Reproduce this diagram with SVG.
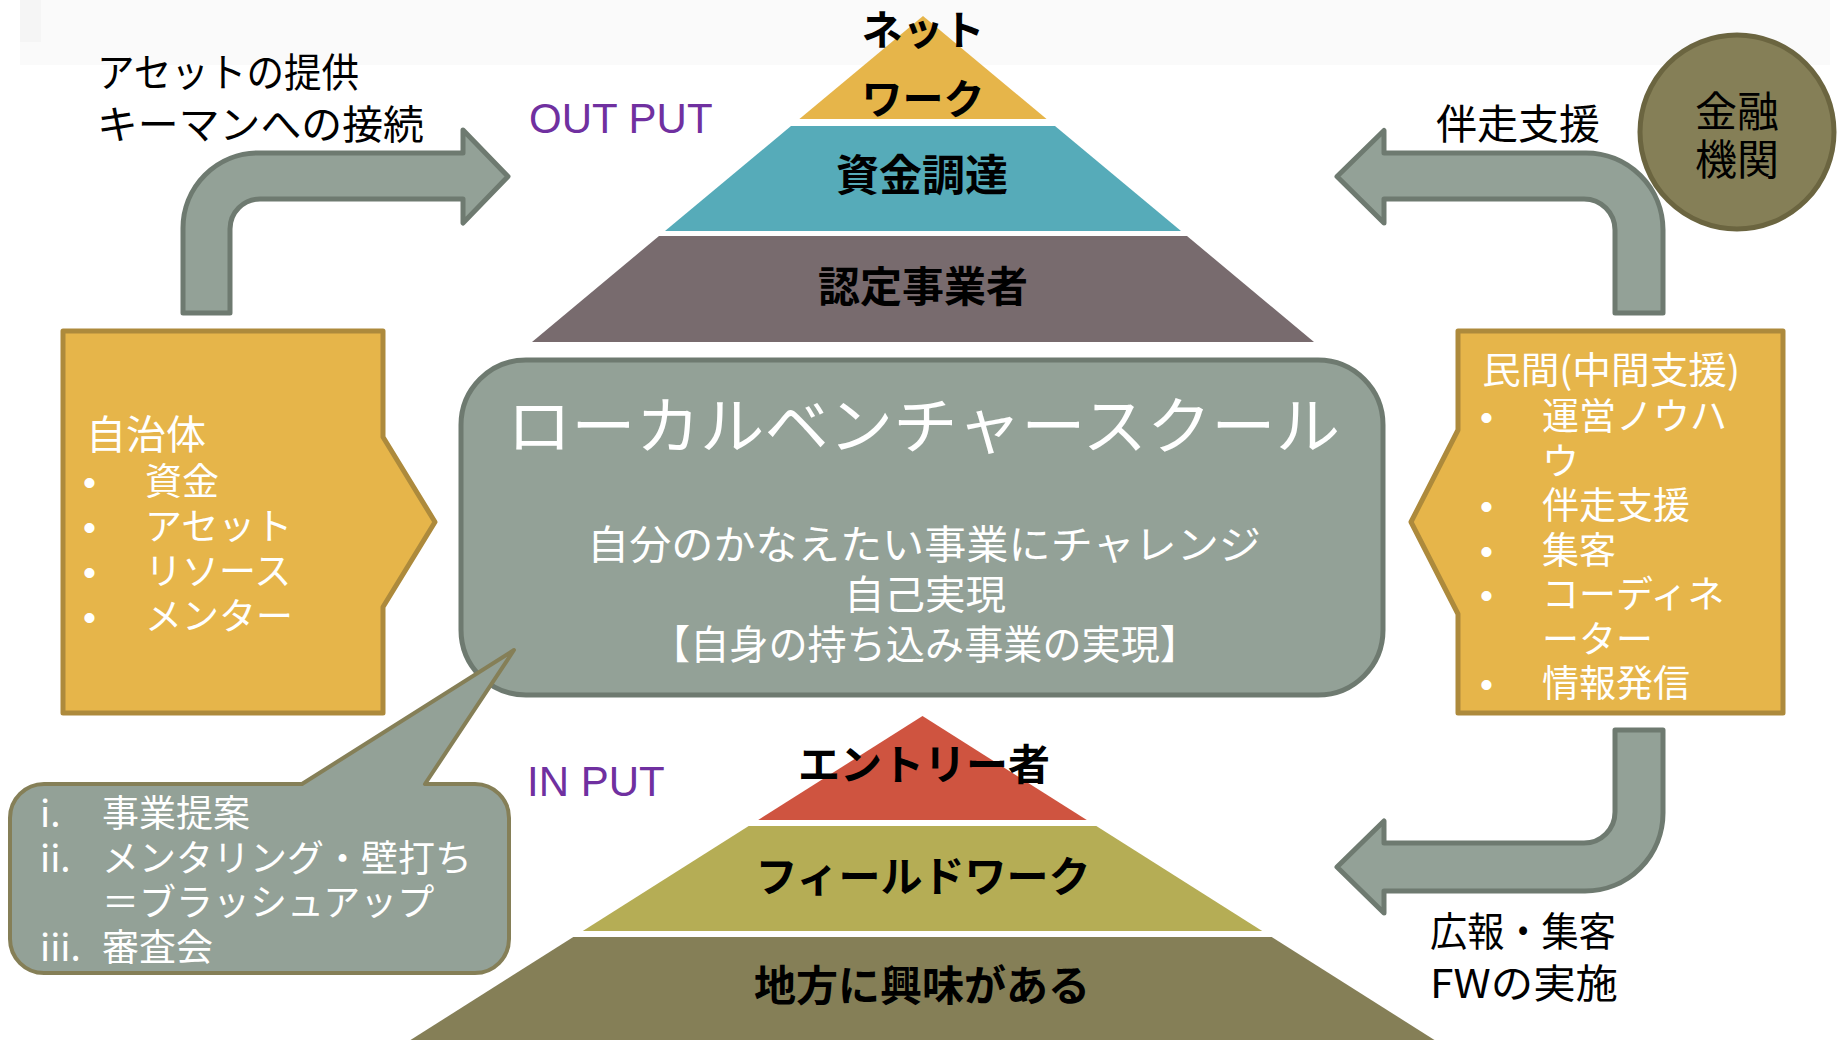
<svg xmlns="http://www.w3.org/2000/svg" width="1841" height="1040" viewBox="0 0 1841 1040">
<style>
  text { font-family: 'Noto Sans CJK JP', 'Noto Sans', sans-serif; }
  .blk { fill: #000; }
  .wht { fill: #fff; }
  .pyr { fill: #000; font-weight: bold; text-anchor: middle; }
  .io { fill: #7030a0; font-family: 'Liberation Sans', Arial, sans-serif; font-size: 42px; }
  .bul { fill: #fff; font-family: 'Liberation Sans', Arial, sans-serif; font-size: 37px; }
  .arrow { fill: #93a197; stroke: #6e7a70; stroke-width: 5; stroke-linejoin: round; }
  .ybox { fill: #e6b54a; stroke: #ad8a3c; stroke-width: 5; stroke-linejoin: round; }
</style>

<rect x="0" y="0" width="1841" height="1040" fill="#ffffff"/>
<rect x="20" y="0" width="1810" height="65" fill="#fafafa"/>
<rect x="20" y="0" width="21" height="42" fill="#f5f5f5"/>

<!-- connectors: block arrows -->
<g id="connectors">
  <path id="arrow-left-up" class="arrow" d="M183,313 L183,228 A75,75 0 0 1 258,153 L463,153 L463,130 L508,176.5 L463,223 L463,199 L260,199 A30,30 0 0 0 230,229 L230,313 Z"/>
  <path id="arrow-right-up" class="arrow" d="M1337,176.5 L1384,130.5 L1384,153 L1586,153 A77,77 0 0 1 1663,230 L1663,313 L1615,313 L1615,230 A31,31 0 0 0 1584,199 L1384,199 L1384,223 Z"/>
  <path id="arrow-right-down" class="arrow" d="M1615,730 L1663,730 L1663,813 A78,78 0 0 1 1585,891 L1384,891 L1384,913 L1337,867 L1384,821 L1384,843 L1584,843 A31,31 0 0 0 1615,812 Z"/>
</g>

<!-- arrow labels -->
<g id="label-asset">
  <text class="blk" x="97" y="87" font-size="40" textLength="262" lengthAdjust="spacingAndGlyphs">アセットの提供</text>
  <text class="blk" x="97" y="139" font-size="40" textLength="327" lengthAdjust="spacingAndGlyphs">キーマンへの接続</text>
</g>
<g id="label-bansou">
  <text class="blk" x="1518" y="139" font-size="41" text-anchor="middle">伴走支援</text>
</g>
<g id="label-kouhou">
  <text class="blk" x="1430" y="946" font-size="40" textLength="186" lengthAdjust="spacingAndGlyphs">広報・集客</text>
  <text class="blk" x="1430" y="998" font-size="40" textLength="188" lengthAdjust="spacingAndGlyphs">FWの実施</text>
</g>

<!-- OUT PUT / IN PUT -->
<g id="label-output"><text class="io" x="529" y="133">OUT PUT</text></g>
<g id="label-input"><text class="io" x="527" y="796">IN PUT</text></g>

<!-- top pyramid -->
<g id="pyramid-top">
  <g id="tier-network">
    <polygon points="923,16 1046.6,119 799.4,119" fill="#e6b54a"/>
    <text class="pyr" x="923" y="45" font-size="41">ネット</text>
    <text class="pyr" x="923" y="114" font-size="41">ワーク</text>
  </g>
  <g id="tier-funding">
    <polygon points="791,126 1055,126 1181,231 665,231" fill="#56abb9"/>
    <text class="pyr" x="922" y="191" font-size="43">資金調達</text>
  </g>
  <g id="tier-certified">
    <polygon points="659,236 1187,236 1314,342 532,342" fill="#786b6e"/>
    <text class="pyr" x="923" y="302" font-size="42">認定事業者</text>
  </g>
</g>

<!-- central node -->
<g id="central">
  <rect x="461" y="360" width="922" height="335" rx="65" ry="65" fill="#93a197" stroke="#6e7a70" stroke-width="5"/>
  <text class="wht" x="923.5" y="449" font-size="62" text-anchor="middle" textLength="833" lengthAdjust="spacingAndGlyphs">ローカルベンチャースクール</text>
  <text class="wht" x="924" y="559" font-size="40" text-anchor="middle" textLength="674" lengthAdjust="spacingAndGlyphs">自分のかなえたい事業にチャレンジ</text>
  <text class="wht" x="925" y="609" font-size="40" text-anchor="middle" textLength="162" lengthAdjust="spacingAndGlyphs">自己実現</text>
  <text class="wht" x="925" y="659" font-size="40" text-anchor="middle" textLength="548" lengthAdjust="spacingAndGlyphs">【自身の持ち込み事業の実現】</text>
</g>

<!-- left box -->
<g id="jichitai">
  <path class="ybox" d="M63,331 L383,331 L383,437 L435,522 L383,607 L383,713 L63,713 Z"/>
  <text class="wht" x="86" y="449" font-size="40">自治体</text>
  <text class="bul" x="83" y="495">•</text>
  <text class="wht" x="145" y="495" font-size="37">資金</text>
  <text class="bul" x="83" y="540">•</text>
  <text class="wht" x="145" y="540" font-size="37">アセット</text>
  <text class="bul" x="83" y="585">•</text>
  <text class="wht" x="145" y="585" font-size="37">リソース</text>
  <text class="bul" x="83" y="630">•</text>
  <text class="wht" x="145" y="630" font-size="37">メンター</text>
</g>

<!-- right box -->
<g id="minkan">
  <path class="ybox" d="M1458,331 L1783,331 L1783,713 L1458,713 L1458,614 L1411,522 L1458,430 Z"/>
  <text class="wht" x="1482" y="384" font-size="37" textLength="258" lengthAdjust="spacingAndGlyphs">民間(中間支援)</text>
  <text class="bul" x="1480" y="430">•</text>
  <text class="wht" x="1542" y="430" font-size="37">運営ノウハ</text>
  <text class="wht" x="1542" y="474.5" font-size="37">ウ</text>
  <text class="bul" x="1480" y="519">•</text>
  <text class="wht" x="1542" y="519" font-size="37">伴走支援</text>
  <text class="bul" x="1480" y="563.5">•</text>
  <text class="wht" x="1542" y="563.5" font-size="37">集客</text>
  <text class="bul" x="1480" y="608">•</text>
  <text class="wht" x="1542" y="608" font-size="37">コーディネ</text>
  <text class="wht" x="1542" y="652.5" font-size="37">ーター</text>
  <text class="bul" x="1480" y="697">•</text>
  <text class="wht" x="1542" y="697" font-size="37">情報発信</text>
</g>

<!-- financial institution -->
<g id="kinyu">
  <circle cx="1737" cy="132" r="97" fill="#857f57" stroke="#6b6540" stroke-width="5"/>
  <text class="blk" x="1737" y="127" font-size="42" text-anchor="middle">金融</text>
  <text class="blk" x="1737" y="175" font-size="42" text-anchor="middle">機関</text>
</g>

<!-- speech bubble -->
<g id="bubble">
  <path d="M44,784 L302,784 L514,650 L425,784 L475,784 A34,34 0 0 1 509,818 L509,939 A34,34 0 0 1 475,973 L44,973 A34,34 0 0 1 10,939 L10,818 A34,34 0 0 1 44,784 Z" fill="#93a197" stroke="#857f57" stroke-width="4" stroke-linejoin="round"/>
  <text class="wht" x="40" y="827" font-size="37">i.</text>
  <text class="wht" x="102" y="827" font-size="37">事業提案</text>
  <text class="wht" x="40" y="872" font-size="37">ii.</text>
  <text class="wht" x="102" y="872" font-size="37">メンタリング・壁打ち</text>
  <text class="wht" x="102" y="916" font-size="37">＝ブラッシュアップ</text>
  <text class="wht" x="40" y="961" font-size="37">iii.</text>
  <text class="wht" x="102" y="961" font-size="37">審査会</text>
</g>

<!-- bottom pyramid -->
<g id="pyramid-bottom">
  <g id="tier-entry">
    <polygon points="922.5,716 1086.8,820 758.2,820" fill="#cf5440"/>
    <text class="pyr" x="924" y="780" font-size="42">エントリー者</text>
  </g>
  <g id="tier-fieldwork">
    <polygon points="748.7,826 1096.3,826 1262.2,931 582.8,931" fill="#b5ad55"/>
    <text class="pyr" x="923" y="892" font-size="42">フィールドワーク</text>
  </g>
  <g id="tier-interest">
    <polygon points="573.3,937 1271.7,937 1442.4,1045 402.6,1045" fill="#857f57"/>
    <text class="pyr" x="922" y="1001" font-size="42">地方に興味がある</text>
  </g>
</g>
</svg>
